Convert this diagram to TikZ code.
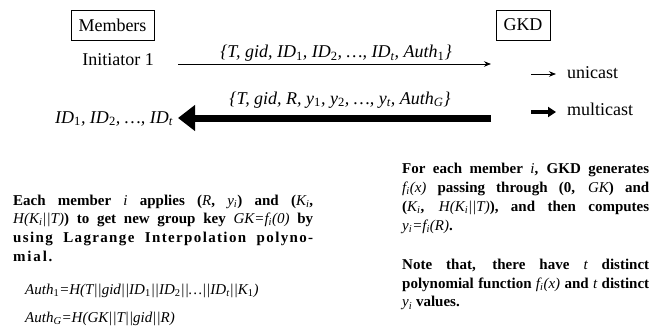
\documentclass[tikz,border=0pt]{standalone}
\usepackage{fontspec}
\setmainfont{Liberation Serif}
\usetikzlibrary{arrows.meta}
\newcommand{\mv}[1]{{\normalfont\itshape #1}}
\newcommand{\sub}[1]{\textsubscript{#1}}
\newcommand{\subn}[1]{\textsubscript{\upshape #1}}
\begin{document}
\begin{tikzpicture}[x=1pt,y=-1pt,
  big/.style={font=\fontsize{18}{20}\selectfont, inner sep=0pt},
  boxed/.style={big, draw, line width=0.9pt, minimum height=30pt},
  uni/.style={line width=0.8pt, -{Stealth[length=7pt,width=5.5pt]}},
  multi/.style={line width=7pt, -{Triangle[length=17pt,width=25pt]}},
  minimulti/.style={line width=4.5pt, -{Triangle[length=8pt,width=10pt]}},
  para/.style={anchor=base west, inner sep=0pt},
  eq/.style={anchor=base west, inner sep=0pt, font=\fontsize{15}{18}\selectfont\itshape}]
\useasboundingbox (0,0) rectangle (651,329);

\node[boxed, minimum width=83pt] (members) at (112.5,25) {Members};
\node[boxed, minimum width=54pt] (gkd) at (523,25) {GKD};

\node[big, anchor=base] (init) at (118,66) {Initiator 1};

\coordinate (uA) at (178,64);
\coordinate (uB) at (491,64);
\draw[uni] (uA) -- (uB);
\node[big, anchor=base] (lab1) at (336,58) {\itshape\{T, gid, ID\subn{1}, ID\subn{2}, \ldots, ID\sub{t}, Auth\subn{1}\}};

\coordinate (mA) at (491,118);
\coordinate (mB) at (178,118);
\draw[multi] (mA) -- (mB);
\node[big, anchor=base] (lab2) at (340,104) {\itshape\{T, gid, R, y\subn{1}, y\subn{2}, \ldots, y\sub{t}, Auth\sub{G}\}};

\node[big, anchor=base east] (ids) at (173,123) {\itshape ID\subn{1}, ID\subn{2}, \ldots, ID\sub{t}};

\coordinate (luA) at (531,74);
\coordinate (luB) at (556,74);
\draw[uni] (luA) -- (luB);
\node[big, anchor=base west] (unicast) at (567,78) {unicast};

\coordinate (lmA) at (531,112);
\coordinate (lmB) at (556,112);
\draw[minimulti] (lmA) -- (lmB);
\node[big, anchor=base west] (multicast) at (567,116) {multicast};

\node[para] (left) at (13,205) {\parbox[t]{300pt}{\fontsize{15}{18.7}\selectfont\bfseries
Each member \mv{i} applies (\mv{R}, \mv{y\sub{i}}) and (\mv{K\sub{i}},\linebreak
\mv{H(K\sub{i}||T)}) to get new group key \mv{GK=f\sub{i}(0)} by\linebreak
{\addfontfeature{LetterSpace=9}using Lagrange Interpolation polyno-}\linebreak
{\addfontfeature{LetterSpace=12}mial.}}};

\node[eq] (auth1) at (25,294) {Auth\subn{1}=H(T||gid||ID\subn{1}||ID\subn{2}||\ldots||ID\sub{t}||K\subn{1})};
\node[eq] (authg) at (25,322) {Auth\sub{G}=H(GK||T||gid||R)};

\node[para] (right) at (402,173) {\parbox[t]{247pt}{\fontsize{15}{19}\selectfont\bfseries
For each member \mv{i}, GKD generates\linebreak
\mv{f\sub{i}(x)} passing through (0, \mv{GK}) and\linebreak
(\mv{K\sub{i}}, \mv{H(K\sub{i}||T)}), and then computes\linebreak
\mv{y\sub{i}=f\sub{i}(R)}.\par\vspace{20pt}
Note that, there have \mv{t} distinct\linebreak
polynomial function \mv{f\sub{i}(x)} and \mv{t} distinct\linebreak
\mv{y\sub{i}} values.}};
\end{tikzpicture}
\end{document}
